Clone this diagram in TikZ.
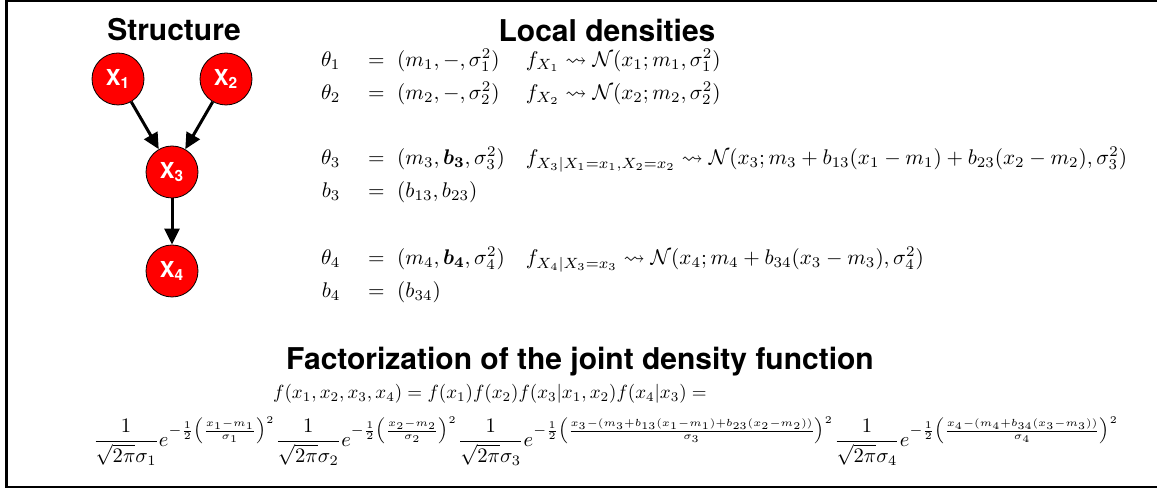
\documentclass[tikz,border=0pt]{standalone}
\usepackage{amsmath, amssymb}
\usepackage{bm}
\usepackage{fontspec}
\setsansfont{TeX Gyre Heros}
\usetikzlibrary{arrows.meta}

\tikzset{
  heading/.style={font=\sffamily\bfseries\fontsize{15}{18}\selectfont},
  var/.style={circle, draw=black, thin, fill=red, text=white,
    minimum size=26pt, inner sep=0pt, font=\sffamily\bfseries\fontsize{11}{13}\selectfont},
  dep/.style={line width=1.5pt, -{Triangle[length=8pt,width=7.5pt]}},
}

\begin{document}
\begin{tikzpicture}[x=0.5pt, y=-0.5pt]
\useasboundingbox (0,0) rectangle (1157,491);
\draw[line width=1.2pt] (1170,1) -- (6.5,1) -- (6.5,487) -- (1170,487);

% structure
\node[heading] (structure) at (174,30) {Structure};
\node[var] (x1) at (118,79) {X\textsubscript{1}};
\node[var] (x2) at (226,79) {X\textsubscript{2}};
\node[var] (x3) at (172,172) {X\textsubscript{3}};
\node[var] (x4) at (172,271) {X\textsubscript{4}};
\draw[dep] (x1) -- (x3);
\draw[dep] (x2) -- (x3);
\draw[dep] (x3) -- (x4);

% local densities
\node[heading] (local) at (607,30) {Local densities};
\node[anchor=north west, inner sep=0pt] (params) at (310,43) {\scalebox{1.06}{%
  \renewcommand{\arraystretch}{1.3}%
  $\begin{array}{r@{\hspace{13pt}}c@{\hspace{6pt}}l@{\hspace{10pt}}l}
  \theta_1 & = & (m_1,-,\sigma_1^2) & f_{X_1}\leadsto\mathcal{N}(x_1;m_1,\sigma_1^2)\\
  \theta_2 & = & (m_2,-,\sigma_2^2) & f_{X_2}\leadsto\mathcal{N}(x_2;m_2,\sigma_2^2)\\[15pt]
  \theta_3 & = & (m_3,\bm{b_3},\sigma_3^2) & f_{X_3|X_1=x_1,X_2=x_2}\leadsto\mathcal{N}(x_3;m_3+b_{13}(x_1-m_1)+b_{23}(x_2-m_2),\sigma_3^2)\\
  b_3 & = & (b_{13},b_{23}) & \\[16pt]
  \theta_4 & = & (m_4,\bm{b_4},\sigma_4^2) & f_{X_4|X_3=x_3}\leadsto\mathcal{N}(x_4;m_4+b_{34}(x_3-m_3),\sigma_4^2)\\
  b_4 & = & (b_{34}) &
  \end{array}$}};

% factorization
\node[heading] (factor) at (580,362) {Factorization of the joint density function};
\node (joint) at (490,394) {\scalebox{0.95}{$f(x_1,x_2,x_3,x_4)=f(x_1)f(x_2)f(x_3|x_1,x_2)f(x_4|x_3)=$}};
\node (gauss) at (606,441) {\scalebox{1.03}{$\displaystyle
  \frac{1}{\sqrt{2\pi}\sigma_1}e^{-\frac{1}{2}\left(\frac{x_1-m_1}{\sigma_1}\right)^2}
  \frac{1}{\sqrt{2\pi}\sigma_2}e^{-\frac{1}{2}\left(\frac{x_2-m_2}{\sigma_2}\right)^2}
  \frac{1}{\sqrt{2\pi}\sigma_3}e^{-\frac{1}{2}\left(\frac{x_3-(m_3+b_{13}(x_1-m_1)+b_{23}(x_2-m_2))}{\sigma_3}\right)^2}
  \frac{1}{\sqrt{2\pi}\sigma_4}e^{-\frac{1}{2}\left(\frac{x_4-(m_4+b_{34}(x_3-m_3))}{\sigma_4}\right)^2}$}};
\end{tikzpicture}
\end{document}
